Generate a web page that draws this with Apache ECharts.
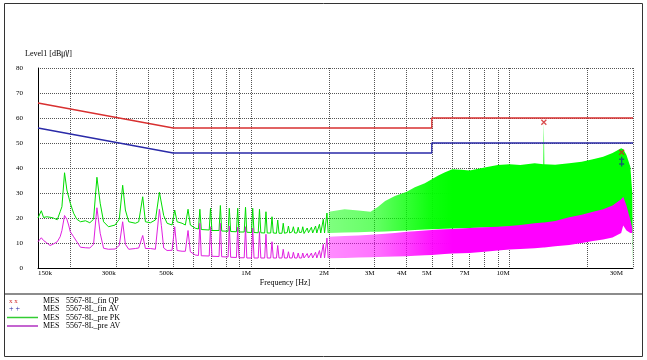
<!DOCTYPE html>
<html><head><meta charset="utf-8">
<script src="https://cdn.jsdelivr.net/npm/echarts@6/dist/echarts.min.js"></script>
<style>html,body{margin:0;padding:0;background:#fff}#c{width:647px;height:360px}</style>
</head><body><div id="c"></div>
<script>
// ---- axis definitions (frequencies in MHz) ----
const gridFreq = [0.15,0.2,0.3,0.4,0.5,0.6,0.7,0.8,0.9,1,2,3,4,5,6,7,8,9,10,20,30];
const tickLabelFreq = [0.15,0.3,0.5,1,2,3,4,5,7,10,30];
const tickLabelText = ['150k','300k','500k','1M','2M','3M','4M','5M','7M','10M','30M'];
const levelTicks = [0,10,20,30,40,50,60,70,80];

// ---- limit lines ----
const qpLimitFreq = [0.15,0.5,5,5,30];
const qpLimit = [66,56,56,60,60];
const avLimitFreq = [0.15,0.5,5,5,30];
const avLimit = [56,46,46,50,50];

// ---- pre-scan traces, 150 kHz .. 2 MHz ----
const lowFreq = [
 0.150,0.152,0.1545,0.1576,0.162,0.167,0.172,0.178,0.1827,0.1856,
 0.190,0.194,0.197,0.200,0.206,0.212,0.219,0.229,0.238,0.246,
 0.2535,0.261,0.269,0.281,0.298,0.3093,0.3188,0.3266,0.3365,0.357,
 0.3678,0.3811,0.3904,0.408,0.4267,0.4422,0.450,0.4594,0.4735,0.495,
 0.5067,0.5176,0.541,0.5571,0.5706,0.5824,0.609,
 0.626,0.634,0.642, 0.689,0.697,0.706, 0.752,0.761,0.770, 0.815,0.824,0.834,
 0.878,0.888,0.898, 0.941,0.952,0.963, 1.004,1.015,1.027, 1.066,1.078,1.091,
 1.129,1.142,1.155, 1.191,1.205,1.219, 1.254,1.268,1.283, 1.317,1.332,1.347,
 1.380,1.395,1.411, 1.442,1.458,1.475, 1.505,1.522,1.539, 1.568,1.585,1.603,
 1.631,1.649,1.668, 1.693,1.712,1.731, 1.756,1.776,1.796, 1.819,1.839,1.860,
 1.882,1.903,1.924, 1.944,1.966,1.988, 2.0
];
const lowPK = [
 20.0,20.5,22.9,20.2,20.5,20.3,20.0,19.3,22.5,24.5,
 38.1,31.2,30.5,25.9,21.9,19.5,18.5,18.9,18.1,19.5,
 36.3,25.9,18.5,16.5,17.2,19.5,33.1,23.2,18.5,17.9,
 18.5,28.5,18.5,18.1,19.2,30.3,30.5,21.0,17.9,17.2,
 23.2,18.5,17.9,17.2,23.5,17.2,15.9,
 15.6,23.5,15.4, 15.2,23.9,15.0, 15.0,25.0,14.8, 14.7,23.9,14.6,
 14.5,23.9,14.4, 14.4,24.3,14.3, 14.2,23.9,14.2, 14.1,23.5,14.1,
 14.0,22.5,14.0, 14.0,20.5,14.0, 13.9,19.2,13.9, 13.9,17.9,13.9,
 14.2,16.8,14.0, 14.5,16.5,14.0, 14.0,16.3,14.2, 14.3,16.5,13.8,
 14.0,16.0,14.1, 13.9,16.3,14.0, 14.1,16.8,14.0, 14.0,17.5,14.0,
 14.0,19.5,14.0, 14.0,22.0,14.0, 14.0
];
const lowAV = [
 10.5,11.2,12.1,11.0,10.1,9.0,9.6,10.5,12.5,15.0,
 21.0,19.5,17.2,14.5,12.5,10.5,8.3,8.1,8.0,9.5,
 24.1,13.9,7.9,7.5,7.6,9.0,18.5,9.5,7.5,7.8,
 8.0,13.0,7.8,7.8,7.5,23.5,17.0,8.0,7.0,7.1,
 16.5,7.0,6.7,6.7,15.0,6.5,5.2,
 5.0,17.9,4.9, 4.8,16.5,4.7, 4.6,17.9,4.5, 4.4,16.8,4.3,
 4.2,16.3,4.1, 4.1,16.5,4.0, 4.0,16.0,4.0, 4.0,14.5,4.0,
 4.0,13.5,4.0, 4.0,10.5,4.0, 4.0,9.0,4.0, 4.0,7.5,4.0,
 4.0,6.5,4.0, 4.0,6.3,4.0, 4.0,6.0,4.0, 4.0,6.0,4.0,
 4.0,5.8,4.0, 4.0,6.0,4.0, 4.0,6.3,4.0, 4.0,7.0,4.0,
 4.0,9.5,4.0, 4.0,12.0,4.0, 4.0
];

// ---- pre-scan envelopes, 2 MHz .. 30 MHz (dense harmonics) ----
const bandFreq = [2.0,2.3,2.6,2.9,3.1,3.3,3.6,4.0,4.3,4.7,5.0,5.3,5.6,6.0,6.5,7.0,8.0,9.0,10.0,11.0,12.5,13.5,13.56,13.62,15.0,17.0,19.0,21.0,23.0,25.0,27.0,27.5,28.3,29.3,29.8,30.0];
const pkUpper = [22.5,23.5,23.0,22.5,24.5,26.8,28.8,30.5,32.3,33.9,35.5,37.0,38.2,39.5,39.3,39.0,40.2,41.2,41.5,41.2,41.9,41.5,58.3,41.5,41.3,41.9,42.5,43.5,44.5,46.0,47.9,47.5,45.2,40.5,30.0,0];
const pkLower = [14.0,14.2,14.3,14.5,14.5,14.6,14.8,15.0,15.2,15.4,15.5,15.6,15.7,15.8,15.9,16.0,16.2,16.4,16.5,16.8,17.2,17.5,17.5,17.5,17.8,19.0,20.0,21.0,22.0,23.5,25.0,25.0,22.0,17.0,14.0,0];
const avUpper = [12.5,12.8,13.0,13.3,13.5,13.7,14.0,14.5,14.7,15.0,15.2,15.4,15.5,15.6,15.8,16.0,16.3,16.5,16.8,17.2,17.9,18.2,18.2,18.2,18.8,20.3,21.3,22.5,23.5,25.0,27.5,28.5,25.0,19.2,16.0,0];
const avLower = [3.9,4.0,4.2,4.3,4.4,4.5,4.6,4.7,4.9,5.1,5.2,5.4,5.6,5.8,5.9,6.0,6.5,7.0,7.4,7.6,7.9,8.2,8.2,8.2,8.7,9.2,10.0,10.8,11.4,12.2,14.0,17.0,15.0,14.0,14.0,0];

// ---- final measurements ----
const qpFreq = [13.56,27.12];
const qpLevel = [58.3,46.3];
const avFreq = [27.12,27.12];
const avLevel = [43.5,41.6];

// ---- legend ----
const legendNames = ['5567-8L_fin QP','5567-8L_fin AV','5567-8L_pre PK','5567-8L_pre AV'];

const LOG = v => Math.log10(v);
const SERIF = '"Liberation Serif","Times New Roman","Noto Sans CJK JP",serif';
const pairs = (fs, vs) => fs.map((f, i) => [LOG(f), vs[i]]);

function makeBand(lower, upper, rgb, opStops) {
  return function (params, api) {
    if (params.dataIndex !== 0) return null;
    const pts = [];
    for (let i = 0; i < bandFreq.length; i++) pts.push(api.coord([LOG(bandFreq[i]), upper[i]]));
    for (let i = bandFreq.length - 1; i >= 0; i--) pts.push(api.coord([LOG(bandFreq[i]), lower[i]]));
    const xa = api.coord([LOG(2), 0])[0], xb = api.coord([LOG(6), 0])[0];
    const stops = opStops.map(s => ({offset: s[0], color: 'rgba(' + rgb + ',' + s[1] + ')'}));
    return {type: 'polygon', shape: {points: pts},
      style: {fill: new echarts.graphic.LinearGradient(xa, 0, xb, 0, stops, true), stroke: null}};
  };
}

const chart = echarts.init(document.getElementById('c'), null, {renderer: 'canvas'});
const lastLabel = tickLabelText.length - 1;

const legendY = [300.7, 309, 317.5, 326];
const graphics = [
  {type: 'rect', silent: true, shape: {x: 4.5, y: 3.5, width: 638, height: 353}, style: {fill: 'transparent', stroke: '#333', lineWidth: 1}},
  {type: 'line', silent: true, shape: {x1: 5, y1: 294, x2: 642, y2: 294}, style: {stroke: '#8c8c8c', lineWidth: 2}},
  {type: 'text', x: 25, y: 54, style: {text: 'Level1 [dB㎶]', font: '8px ' + SERIF, fill: '#000', verticalAlign: 'middle'}},
  {type: 'text', x: 285, y: 283, style: {text: 'Frequency [Hz]', font: '8px ' + SERIF, fill: '#000', align: 'center', verticalAlign: 'middle'}},
  {type: 'text', x: 9, y: legendY[0], style: {text: 'x x', font: '7px ' + SERIF, fill: '#d03030', verticalAlign: 'middle'}},
  {type: 'text', x: 9, y: legendY[1], style: {text: '+ +', font: '8px ' + SERIF, fill: '#2020a0', verticalAlign: 'middle'}},
  {type: 'line', shape: {x1: 7, y1: legendY[2], x2: 38, y2: legendY[2]}, style: {stroke: '#33cc33', lineWidth: 1.5}},
  {type: 'line', shape: {x1: 7, y1: legendY[3], x2: 38, y2: legendY[3]}, style: {stroke: '#b030c0', lineWidth: 1.5}}
];
legendNames.forEach((n, i) => {
  graphics.push({type: 'text', x: 43, y: legendY[i], style: {text: 'MES', font: '8px ' + SERIF, fill: '#000', verticalAlign: 'middle'}});
  graphics.push({type: 'text', x: 66, y: legendY[i], style: {text: n, font: '8px ' + SERIF, fill: '#000', verticalAlign: 'middle'}});
});

const dotted = {type: [1, 1], color: '#555', width: 1};

chart.setOption({
  animation: false,
  backgroundColor: '#fff',
  grid: {left: 38, right: 14, top: 68, bottom: 92, containLabel: false},
  xAxis: {
    type: 'value', min: LOG(0.15), max: LOG(30),
    axisLine: {show: true, onZero: false, lineStyle: {color: '#000', width: 1}},
    axisTick: {show: false, customValues: gridFreq.map(LOG)},
    splitLine: {show: true, lineStyle: dotted},
    axisLabel: {
      customValues: tickLabelFreq.map(LOG), margin: 2, align: 'right', alignMinLabel: 'left',
      fontSize: 7, fontFamily: SERIF, color: '#000',
      formatter: function (v) {
        let best = 0, d = 1e9;
        tickLabelFreq.forEach((f, i) => { const dd = Math.abs(LOG(f) - v); if (dd < d) { d = dd; best = i; } });
        return best === lastLabel ? '{e|' + tickLabelText[best] + '}' : tickLabelText[best];
      },
      rich: {e: {fontSize: 7, fontFamily: SERIF, color: '#000', padding: [0, 10, 0, 0]}}
    }
  },
  yAxis: {
    type: 'value', min: levelTicks[0], max: levelTicks[levelTicks.length - 1], interval: 10,
    axisLine: {show: true, onZero: false, lineStyle: {color: '#000', width: 1}},
    axisTick: {show: false},
    splitLine: {show: true, lineStyle: dotted},
    axisLabel: {margin: 15, fontSize: 7, fontFamily: SERIF, color: '#000'}
  },
  graphic: graphics,
  series: [
    {type: 'custom', name: 'pre PK band', z: 2, silent: true, data: [[LOG(2), 0]],
     renderItem: makeBand(pkLower, pkUpper, '0,255,0', [[0, 0.5], [0.37, 0.6], [0.63, 0.8], [0.83, 0.95], [1, 1]])},
    {type: 'line', name: 'pre PK', z: 2, silent: true, symbol: 'none', data: pairs(lowFreq, lowPK),
     lineStyle: {color: '#00dd00', width: 1}},
    {type: 'custom', name: 'pre AV band', z: 3, silent: true, data: [[LOG(2), 0]],
     renderItem: makeBand(avLower, avUpper, '255,0,255', [[0, 0.45], [0.37, 0.55], [0.63, 0.75], [0.83, 0.92], [1, 1]])},
    {type: 'line', name: 'pre AV', z: 3, silent: true, symbol: 'none', data: pairs(lowFreq, lowAV),
     lineStyle: {color: '#e020e0', width: 1}},
    {type: 'line', name: 'QP limit', z: 4, silent: true, symbol: 'none', data: pairs(qpLimitFreq, qpLimit),
     lineStyle: {color: '#d83030', width: 1.3}},
    {type: 'line', name: 'AV limit', z: 4, silent: true, symbol: 'none', data: pairs(avLimitFreq, avLimit),
     lineStyle: {color: '#2a2aa8', width: 1.3}},
    {type: 'scatter', name: 'fin QP', z: 5, silent: true, data: pairs(qpFreq, qpLevel),
     symbol: 'path://M0,0L10,10M10,0L0,10', symbolSize: 5,
     itemStyle: {color: 'transparent', borderColor: '#d02020', borderWidth: 1.3}},
    {type: 'scatter', name: 'fin AV', z: 5, silent: true, data: pairs(avFreq, avLevel),
     symbol: 'path://M5,0L5,10M0,5L10,5', symbolSize: 5,
     itemStyle: {color: 'transparent', borderColor: '#1a3a8a', borderWidth: 1.3}}
  ]
});
</script>
</body></html>
